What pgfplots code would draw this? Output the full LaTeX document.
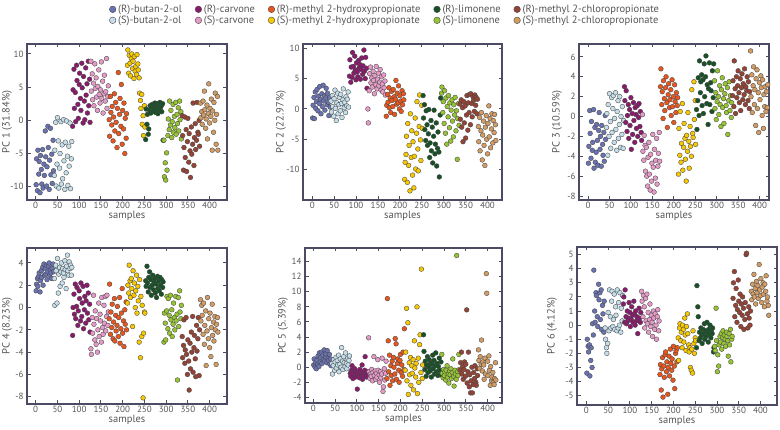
\documentclass[border=0pt]{standalone}
\usepackage{fontspec}
\setmainfont{PT Sans}
\usepackage{pgfplots}
\usepackage{pgfplotstable}
\pgfplotsset{compat=1.18}
\definecolor{cRbut}{RGB}{106,115,178}
\definecolor{cSbut}{RGB}{196,222,234}
\definecolor{cRcar}{RGB}{139,26,110}
\definecolor{cScar}{RGB}{230,154,200}
\definecolor{cRmhp}{RGB}{232,86,30}
\definecolor{cSmhp}{RGB}{245,200,0}
\definecolor{cRlim}{RGB}{22,82,38}
\definecolor{cSlim}{RGB}{150,196,50}
\definecolor{cRmcp}{RGB}{150,66,52}
\definecolor{cSmcp}{RGB}{210,156,100}
\definecolor{axcol}{RGB}{75,75,100}
\definecolor{lblcol}{RGB}{85,85,85}
\definecolor{mkedge}{RGB}{70,70,70}

\pgfplotstableread{
x p1 p2 p3 p4 p5 p6
1 -9.7 -1.5 -4.7 1.5 0.3 -3.4
2 -5.8 0.6 -3.0 2.1 1.1 -1.0
4 -10.6 1.9 0.6 2.6 0.0 -1.5
5 -4.5 -1.6 -1.7 1.9 0.6 -1.9
7 -8.1 2.8 -4.2 2.8 -0.2 -1.4
8 -6.2 0.1 -0.5 3.1 0.9 -3.6
10 -10.9 1.2 -3.4 1.4 0.4 -2.5
11 -5.3 3.2 -2.6 2.4 1.5 -1.6
13 -7.4 -0.3 0.7 3.3 0.1 -3.0
14 -9.6 2.1 -5.2 2.7 1.9 0.1
16 -4.4 0.9 -1.1 3.6 0.7 -0.7
17 -10.2 3.7 -4.6 2.0 1.3 3.9
19 -6.6 1.6 -3.6 3.9 2.0 1.0
20 -8.3 -0.8 -0.8 2.9 0.5 0.2
22 -1.6 2.5 -2.4 3.5 1.6 2.3
23 -5.5 0.4 -4.9 3.0 1.0 2.1
25 -9.9 3.9 -1.4 3.8 2.3 0.6
26 -7.0 1.3 0.4 2.5 0.8 -0.1
28 -0.9 2.2 -3.3 3.2 1.4 2.9
29 -4.1 -0.2 -2.0 3.7 1.8 1.8
31 -10.4 1.8 -5.0 4.0 0.6 2.3
32 -6.0 3.4 -0.9 2.9 2.2 0.4
34 -1.2 0.7 -2.8 3.4 1.2 2.5
35 -8.2 2.6 -3.9 3.1 0.9 -0.3
37 -5.1 1.1 -1.6 2.6 1.7 1.4
38 -9.5 -1.1 -4.5 3.5 0.4 0.8
40 -3.0 1.9 0.1 3.9 1.1 -0.5
41 -7.6 0.3 -2.3 3.2 0.2 1.7
}\Rbut
\pgfplotstableread{
x p1 p2 p3 p4 p5 p6
43 -8.3 1.3 -1.1 2.6 0.5 -0.2
44 -4.5 -0.5 0.3 0.2 -0.9 -1.0
46 -0.3 2.2 -3.9 3.8 0.2 -1.6
47 -9.9 0.4 1.2 3.3 1.0 -2.0
49 -6.6 -1.2 -2.0 0.4 -0.4 -1.3
50 0.4 1.7 2.3 4.4 0.7 0.9
52 -3.1 3.1 -0.5 1.3 1.3 -0.4
53 -10.2 0.1 -3.2 3.0 -0.1 2.5
55 -7.2 -1.9 1.9 3.6 0.9 0.6
56 -5.0 1.0 -1.6 1.9 0.3 -0.2
58 -0.2 2.6 0.8 3.2 1.6 1.7
59 -9.6 -0.8 2.1 4.0 -0.6 2.4
61 -3.7 0.7 -2.6 2.2 0.4 -0.1
62 -8.8 1.9 -0.2 3.5 1.1 0.4
64 0.1 -0.3 2.4 3.1 0.0 2.2
65 -6.1 2.4 -1.3 2.7 2.6 -0.3
67 -10.4 0.9 -3.4 4.2 0.8 1.3
68 -3.3 -1.4 0.5 3.4 -0.3 0.7
70 -7.9 1.5 1.6 1.7 1.4 -0.4
71 -0.1 3.3 -2.2 3.7 0.6 2.5
73 -5.4 0.2 -0.8 4.7 0.1 -0.2
74 -9.8 1.1 2.0 3.3 1.9 1.6
76 -3.9 -0.6 -3.1 2.9 0.5 0.0
77 -6.9 2.0 0.0 4.1 -0.2 2.3
79 -0.4 0.5 -1.8 3.5 1.2 -0.5
80 -10.3 1.6 1.0 3.8 0.3 1.2
82 -5.8 2.8 -3.2 2.9 0.9 0.3
83 -3.2 0.3 -0.4 3.6 1.5 2.1
}\Sbut
\pgfplotstableread{
x p1 p2 p3 p4 p5 p6
85 -0.9 5.4 3.0 -2.5 -0.8 1.5
86 4.6 8.1 1.6 0.0 -1.2 2.0
88 7.7 4.4 -0.6 1.2 -0.4 0.2
89 1.8 6.9 2.6 -0.6 0.2 2.5
91 4.2 5.2 -1.5 2.1 -1.5 0.6
92 -0.2 9.3 0.1 -1.0 -0.7 0.1
94 8.3 7.0 1.2 0.1 -1.0 1.0
95 6.0 5.9 -2.2 1.8 -0.2 0.3
97 2.4 8.7 0.7 -1.6 -1.3 0.5
98 0.3 6.4 -0.9 -0.3 -0.6 1.6
100 5.4 4.8 1.9 1.5 -0.9 0.9
101 7.1 7.6 -3.3 0.8 -2.9 -0.1
103 3.3 6.1 0.3 -1.2 -1.1 0.4
104 1.5 5.3 -1.8 2.2 -0.5 1.3
106 8.6 8.0 1.4 -0.8 -1.4 0.7
107 4.9 6.8 -0.4 0.4 -0.3 0.2
109 -0.4 7.3 -2.6 1.9 -1.0 1.7
110 6.6 4.9 0.9 -1.9 -0.8 0.8
112 2.9 6.5 0.2 -0.2 0.3 0.0
113 0.1 8.4 -1.2 1.0 -1.6 1.0
115 7.9 5.7 1.1 -1.4 -0.7 0.3
116 3.8 7.1 -2.0 0.6 -1.2 0.6
118 5.5 9.7 -0.1 2.0 -0.4 -0.6
119 1.1 6.2 1.3 -0.5 1.4 0.4
121 8.9 5.0 -1.0 1.3 -0.9 1.2
122 2.2 8.5 0.5 -1.1 -1.3 0.5
124 6.2 6.7 -1.6 0.3 -0.6 0.2
125 -0.3 3.4 -2.4 -2.2 -1.1 0.9
}\Rcar
\pgfplotstableread{
x p1 p2 p3 p4 p5 p6
127 8.9 0.0 0.2 -3.7 3.9 2.4
128 4.4 -2.3 -3.5 -4.2 -0.6 1.7
130 7.0 3.0 -4.4 -0.9 -1.5 0.6
131 3.1 5.8 -1.9 -2.3 -0.9 2.1
133 5.6 6.9 -2.9 1.1 -1.2 1.3
134 2.2 4.3 -5.5 -1.5 -0.3 -0.2
136 8.5 5.1 -3.1 -2.9 -1.8 1.9
137 4.8 3.6 -6.0 -0.3 -0.7 0.3
139 6.4 6.2 -7.0 -3.3 1.4 2.2
140 3.5 4.7 -4.1 -1.0 -1.1 0.1
142 1.5 2.5 -2.6 -4.0 -0.5 0.9
143 5.1 5.5 -5.8 -2.0 -1.6 -0.5
145 7.6 4.0 -7.4 0.4 -0.8 0.4
146 3.9 7.0 -3.8 -2.6 -1.3 1.5
148 2.6 3.3 -6.5 -0.6 1.0 -0.1
149 4.6 4.9 -4.7 -1.2 -0.4 0.7
151 8.8 5.9 -1.8 -3.1 -1.0 0.2
152 3.3 3.8 -5.1 0.9 -2.0 -0.8
154 5.9 4.4 -7.6 -1.8 -0.6 1.0
155 1.1 6.5 -3.3 -2.4 -1.4 0.5
157 4.0 3.1 -6.2 0.2 -0.9 -0.3
158 6.8 5.3 -4.4 -1.4 1.2 0.8
160 2.9 4.1 -2.2 1.0 -3.2 0.0
161 4.3 2.8 -6.8 -2.1 -2.6 -1.0
163 9.3 5.6 -5.0 -0.8 -0.2 0.6
164 1.8 3.5 -3.7 1.1 -1.7 1.1
166 3.6 4.6 -1.6 -1.6 -0.8 -0.4
167 5.2 2.3 -4.5 -0.4 0.8 0.3
}\Scar
\pgfplotstableread{
x p1 p2 p3 p4 p5 p6
169 0.1 -1.2 3.0 -1.0 -1.5 -3.5
170 -2.4 0.6 4.8 2.1 9.1 -2.8
172 3.6 2.4 1.2 -2.4 3.5 -4.6
173 1.2 1.1 2.5 -0.4 -0.6 -3.1
175 -0.7 3.5 -0.2 -1.8 1.6 -2.3
176 2.1 0.2 3.6 0.3 -2.4 -5.1
178 -3.1 1.8 1.8 -2.8 0.2 -2.9
179 0.5 -0.6 0.6 -1.3 -1.1 -3.7
181 4.0 2.9 2.9 0.8 0.8 -2.1
182 -1.6 1.4 4.0 -3.0 -1.8 -1.9
184 2.7 0.4 1.4 -0.7 1.3 -3.3
185 -0.3 3.2 -1.1 -2.1 0.0 -2.6
187 -4.1 2.0 2.2 -1.6 -0.9 -4.9
188 1.8 -0.9 3.3 0.1 3.8 -3.0
190 7.2 1.6 0.9 -2.6 3.1 -2.2
191 -2.0 4.7 1.7 -0.9 -1.6 -3.6
193 0.9 0.8 2.7 0.9 0.5 -1.7
194 3.3 2.6 0.1 -3.2 1.1 -2.7
196 -0.9 1.0 3.7 -1.9 -0.4 -3.2
197 5.4 3.8 1.0 -0.5 -2.0 -2.4
199 -3.6 0.0 2.0 1.7 0.9 -3.9
200 1.5 2.2 -0.6 -2.3 1.7 -1.5
202 -1.3 1.3 3.2 -1.2 -0.7 -2.9
203 2.6 -0.4 1.5 -3.5 0.3 -4.5
205 -5.0 3.0 0.4 -0.2 -1.2 -2.0
206 0.3 0.7 2.4 -1.5 2.0 -1.8
208 -2.7 2.5 1.1 0.5 -0.3 -2.6
209 1.0 1.5 1.9 -2.0 5.1 -1.6
}\Rmhp
\pgfplotstableread{
x p1 p2 p3 p4 p5 p6
211 8.3 -11.6 -5.8 0.4 -0.4 -0.9
212 10.6 -8.8 -1.2 2.0 2.0 -2.5
214 7.1 -7.5 -3.9 1.3 7.8 -0.2
215 9.8 -4.5 0.5 3.8 -1.8 0.1
217 8.6 -12.1 -4.6 2.4 5.9 -1.1
218 6.7 -2.4 -2.7 0.9 -3.6 -0.5
220 9.3 -9.3 1.3 2.6 0.6 -1.6
221 10.0 -6.0 -5.4 1.7 -1.0 0.0
223 7.8 -13.5 -3.1 -1.7 1.3 -0.3
224 8.9 -0.8 -0.7 3.3 -2.4 -1.2
226 6.3 -8.0 -2.2 1.1 0.2 0.5
227 9.6 -3.6 -4.3 2.2 -0.8 -0.7
229 7.4 -10.9 -6.5 0.0 1.0 -1.8
230 8.1 -5.4 -1.9 1.5 -3.0 -0.1
232 6.9 -13.0 -3.5 2.9 3.5 0.8
233 9.9 -7.8 0.4 -0.5 -0.1 -0.6
235 8.5 -1.5 -2.5 1.9 -1.3 -1.4
236 7.6 -9.9 -5.2 0.6 0.5 -1.9
238 6.4 -4.0 -1.0 -3.1 8.0 -1.6
239 4.1 1.2 -3.0 2.5 -3.5 -3.0
241 3.0 -6.6 -4.0 -4.5 1.2 -3.2
242 1.8 -10.2 2.7 1.0 -2.0 -1.7
244 3.9 -2.9 -1.7 -2.6 3.0 -3.4
245 -0.6 2.3 -2.1 0.2 4.3 -0.4
247 0.7 -5.1 3.5 -8.1 -0.7 -1.3
248 -2.3 -8.5 -0.3 -2.3 13.0 -2.0
250 2.2 0.6 1.6 -0.4 -1.5 -0.9
251 -1.0 -3.2 -2.8 -0.5 0.3 -1.1
}\Smhp
\pgfplotstableread{
x p1 p2 p3 p4 p5 p6
253 -2.9 2.2 0.7 2.4 4.3 -1.6
254 1.7 -1.5 -1.3 1.9 2.1 2.8
256 -0.6 0.7 1.6 3.7 -0.3 1.3
257 0.9 -3.4 3.9 2.2 0.8 0.6
259 -2.1 -5.2 0.1 1.4 -1.2 -1.1
260 -1.3 -0.3 5.6 2.7 0.3 -0.5
262 1.5 -2.6 2.4 3.2 1.4 -0.9
263 2.2 -6.0 3.5 1.8 -0.7 -0.2
265 1.1 -4.1 4.2 2.5 0.0 -0.7
266 1.9 -0.1 1.1 1.1 1.0 -1.3
268 2.4 -8.0 3.7 2.0 -0.5 -0.3
269 1.4 -5.6 0.3 2.9 0.6 -0.6
271 2.0 -1.9 5.3 1.6 -1.3 0.1
272 1.6 -6.9 2.0 2.3 0.4 -1.0
274 2.6 -3.0 4.0 2.6 1.6 -0.4
275 1.2 -8.9 6.1 1.3 -0.2 -0.8
277 2.1 -4.5 1.3 2.1 0.9 0.2
278 1.8 -0.2 3.2 0.9 -0.9 -0.5
280 2.5 -7.4 -0.8 2.8 0.2 -1.2
281 1.0 -5.8 2.8 1.7 1.9 -0.3
283 2.3 -2.3 5.4 2.4 -0.6 -0.7
284 1.5 -9.4 1.2 1.5 0.5 0.0
286 2.7 -6.5 3.4 2.7 -1.1 -0.9
287 1.9 -3.8 2.6 2.0 0.1 -0.4
289 2.2 -7.1 0.5 1.2 1.2 -0.6
290 1.3 -11.2 4.6 2.5 -0.4 -0.2
292 2.5 -1.0 1.9 1.8 -1.0 -1.9
293 -3.0 1.8 5.3 2.3 0.7 -1.6
}\Rlim
\pgfplotstableread{
x p1 p2 p3 p4 p5 p6
295 -3.0 2.6 3.6 -3.1 1.7 -1.5
296 -8.5 3.6 0.8 -0.5 -0.8 -1.8
298 -6.4 -0.6 2.4 -1.4 -1.4 1.2
299 -9.0 1.2 -0.3 -2.9 -0.3 -1.1
301 -4.9 -2.4 1.5 -0.3 -1.1 -3.3
302 -7.5 3.0 4.6 1.0 -0.6 -2.1
304 -2.3 -4.0 2.0 -1.9 -1.7 -2.9
305 0.2 1.8 0.2 0.8 -0.4 -1.4
307 -1.4 -5.8 3.1 -0.7 0.2 -0.8
308 2.9 0.4 1.2 -2.3 -1.3 -1.2
310 -0.7 -1.3 -1.0 1.1 -0.9 -0.6
311 1.5 2.2 2.7 -1.1 -2.1 -1.7
313 -2.6 -3.1 3.9 -0.2 -0.5 -0.9
314 -0.2 1.0 0.9 -2.6 -1.0 -0.4
316 2.4 -5.3 1.8 -1.5 -0.2 -1.3
317 -1.8 -0.2 -0.7 0.4 -1.5 -0.7
319 0.6 1.5 2.3 -0.9 -0.7 -1.0
320 -1.1 -2.0 3.3 -2.0 1.1 -1.5
322 2.7 -4.6 1.1 1.0 -1.2 -0.5
323 -2.1 0.7 0.4 -1.2 -2.5 -0.8
325 0.9 -1.0 2.9 -0.6 -0.4 -1.1
326 -0.5 1.9 -1.8 -6.5 -0.9 -2.2
328 1.9 -3.6 1.6 0.9 -1.6 -0.6
329 -1.6 -0.3 3.5 -1.7 14.8 -1.4
331 2.9 -8.3 0.6 1.5 -0.6 -0.3
332 0.1 -1.6 2.1 -0.4 -1.1 -2.6
334 1.3 0.9 -0.1 -1.0 1.7 -1.0
335 -2.8 -2.7 1.4 0.2 -0.3 -0.8
}\Slim
\pgfplotstableread{
x p1 p2 p3 p4 p5 p6
337 0.7 0.8 2.1 -2.6 -0.4 1.9
338 -2.3 -1.7 3.6 -4.5 0.6 3.0
340 -7.5 1.5 1.0 -3.4 2.0 3.8
341 -4.1 -3.0 5.6 -1.1 -0.9 0.6
343 0.5 0.2 2.8 -5.0 0.1 1.4
344 -5.6 -5.4 0.3 -3.8 -1.6 2.6
346 -1.4 1.2 4.0 -0.9 -0.3 0.2
347 -7.7 -2.3 1.9 -4.2 0.7 1.1
349 -3.2 0.5 3.1 -6.0 -1.2 3.2
350 0.3 -4.8 4.6 -2.9 0.4 1.7
352 -6.3 -1.0 2.4 -4.8 7.6 0.9
353 -2.0 2.2 1.4 -7.4 -2.1 2.2
355 -4.6 -3.5 3.8 -3.2 -0.6 -0.1
356 -8.6 1.0 0.6 -5.5 2.0 1.5
358 -1.0 -0.6 2.9 -2.2 -2.6 0.7
359 -5.1 2.4 4.3 -4.0 -1.0 2.0
361 -3.6 -2.6 1.7 -0.8 -3.4 1.2
362 2.6 2.5 3.3 -5.8 -1.8 -0.3
364 -6.8 0.9 2.2 -3.6 0.0 0.4
365 -2.6 -1.3 4.8 -2.5 -3.4 1.6
367 -0.5 2.0 1.2 -4.6 -2.3 5.0
368 -4.4 1.4 3.0 -6.2 -0.7 5.1
370 -3.0 -0.4 2.6 -1.6 -1.5 0.8
371 2.7 2.3 4.0 -3.9 0.2 -0.2
373 -1.8 0.6 1.6 -2.8 -2.0 1.3
374 -2.1 1.9 3.5 -0.9 -2.4 0.5
376 0.0 -0.8 0.8 -6.1 -0.2 0.0
377 -3.9 1.6 2.5 -2.0 -1.1 1.0
}\Rmcp
\pgfplotstableread{
x p1 p2 p3 p4 p5 p6
379 2.6 -2.9 6.6 0.7 2.3 2.4
380 0.4 -5.4 2.0 -1.2 0.9 1.8
382 1.3 -1.4 4.2 0.2 -0.2 2.9
383 -0.6 -6.9 0.4 -0.7 1.4 2.2
385 2.9 -3.6 3.1 -2.4 0.4 3.6
386 0.8 -0.6 5.0 0.4 3.6 2.0
388 4.4 -8.4 1.2 -3.3 -0.5 2.6
389 1.6 -4.3 2.7 -1.6 0.7 1.5
391 -1.2 -2.0 -0.9 -0.3 0.3 3.1
392 0.2 -6.0 3.8 -5.2 -1.6 2.3
394 2.3 -9.3 4.7 -2.1 1.2 2.8
395 -2.8 -3.0 0.8 0.9 -0.9 1.9
397 1.0 -1.1 2.4 -2.8 12.4 4.3
398 5.5 -5.0 -1.6 -1.0 9.8 2.5
400 -0.4 -7.4 3.4 -3.6 0.8 2.1
401 1.8 -2.4 1.7 -0.5 -1.1 3.3
403 0.6 0.5 4.1 -4.4 1.5 1.6
404 3.2 -4.6 2.9 -1.8 -0.4 2.7
406 -4.5 -1.6 0.1 0.3 -2.4 3.0
407 1.4 -6.4 3.7 -2.5 0.1 2.2
409 -1.8 -3.3 -1.2 -1.3 -1.8 1.3
410 2.7 -0.8 2.2 -3.0 -1.3 2.9
412 0.0 -5.6 1.0 -0.8 -0.7 2.4
413 4.1 -1.9 3.0 -2.0 -2.0 3.5
415 -3.6 -3.9 0.5 -5.1 -2.3 1.7
416 0.9 -0.9 2.5 -1.5 -1.5 2.0
418 3.6 -2.6 0.9 -0.9 0.6 1.4
419 -4.5 -5.2 3.2 -2.2 -1.7 0.7
}\Smcp

\pgfplotsset{
  pcaxis/.style={
    scale only axis, anchor=south west,
    xmin=-20, xmax=440, xtick={0,50,...,400},
    tick align=inside, xtick pos=both, ytick pos=both,
    axis line style={draw=axcol, line width=1.5pt},
    every outer x axis line/.append style={draw=axcol, line width=1.5pt},
    every outer y axis line/.append style={draw=axcol, line width=1.5pt},
    tick style={draw=axcol, line width=0.9pt},
    major tick length=3.5pt,
    ticklabel style={font=\fontsize{9}{10}\selectfont, text=lblcol},
    xticklabel style={yshift=1pt},
    label style={font=\fontsize{10.5}{12}\selectfont, text=lblcol},
    xlabel={samples},
    xlabel style={yshift=5pt},
    ylabel style={anchor=center},
    /pgf/number format/assume math mode=true,
    every axis plot/.append style={only marks, mark=*, mark size=2.4pt, line width=0.35pt},
  },
}
\newcommand{\zeroline}{\addplot[no markers, draw=black!70, line width=0.9pt, dash pattern=on 0.9pt off 1.6pt, forget plot] coordinates {(-30,0) (450,0)};}
\newcommand{\allclasses}[1]{%
  \addplot[draw=mkedge, fill=cRbut, forget plot] table[x=x,y=#1]{\Rbut};
  \addplot[draw=mkedge, fill=cSbut, forget plot] table[x=x,y=#1]{\Sbut};
  \addplot[draw=mkedge, fill=cRcar, forget plot] table[x=x,y=#1]{\Rcar};
  \addplot[draw=mkedge, fill=cScar, forget plot] table[x=x,y=#1]{\Scar};
  \addplot[draw=mkedge, fill=cRmhp, forget plot] table[x=x,y=#1]{\Rmhp};
  \addplot[draw=mkedge, fill=cSmhp, forget plot] table[x=x,y=#1]{\Smhp};
  \addplot[draw=mkedge, fill=cRlim, forget plot] table[x=x,y=#1]{\Rlim};
  \addplot[draw=mkedge, fill=cSlim, forget plot] table[x=x,y=#1]{\Slim};
  \addplot[draw=mkedge, fill=cRmcp, forget plot] table[x=x,y=#1]{\Rmcp};
  \addplot[draw=mkedge, fill=cSmcp, forget plot] table[x=x,y=#1]{\Smcp};
}

\begin{document}
\begin{tikzpicture}
\path[use as bounding box] (0,0) rectangle (780pt,430pt);

% PC 1
\begin{axis}[pcaxis, at={(27pt,230pt)}, width=200pt, height=156pt,
  ymin=-12, ymax=11.5, ytick={-10,-5,0,5,10}, ylabel={PC 1 (31.84\%)},
  ylabel style={at={(axis description cs:-0.1,0.5)}},
  legend columns=5,
  legend style={at={(0.41,1.265)}, anchor=north west, draw=none, fill=none,
    font=\fontsize{10.5}{11.5}\selectfont, text=lblcol,
    /tikz/every even column/.append style={column sep=11pt},
    row sep=-2pt, inner sep=0pt},
  legend cell align=left,
  legend image code/.code={\draw[#1] (0pt,0pt) circle (3.3pt);},
]
\addlegendimage{draw=mkedge, fill=cRbut, line width=0.4pt}\addlegendentry{(R)-butan-2-ol}
\addlegendimage{draw=mkedge, fill=cRcar, line width=0.4pt}\addlegendentry{(R)-carvone}
\addlegendimage{draw=mkedge, fill=cRmhp, line width=0.4pt}\addlegendentry{(R)-methyl 2-hydroxypropionate}
\addlegendimage{draw=mkedge, fill=cRlim, line width=0.4pt}\addlegendentry{(R)-limonene}
\addlegendimage{draw=mkedge, fill=cRmcp, line width=0.4pt}\addlegendentry{(R)-methyl 2-chloropropionate}
\addlegendimage{draw=mkedge, fill=cSbut, line width=0.4pt}\addlegendentry{(S)-butan-2-ol}
\addlegendimage{draw=mkedge, fill=cScar, line width=0.4pt}\addlegendentry{(S)-carvone}
\addlegendimage{draw=mkedge, fill=cSmhp, line width=0.4pt}\addlegendentry{(S)-methyl 2-hydroxypropionate}
\addlegendimage{draw=mkedge, fill=cSlim, line width=0.4pt}\addlegendentry{(S)-limonene}
\addlegendimage{draw=mkedge, fill=cSmcp, line width=0.4pt}\addlegendentry{(S)-methyl 2-chloropropionate}
\zeroline
\allclasses{p1}
\end{axis}

% PC 2
\begin{axis}[pcaxis, at={(303pt,230pt)}, width=199pt, height=156pt,
  xmin=-21, xmax=433,
  ymin=-15, ymax=10.7, ytick={-10,-5,0,5,10}, ylabel={PC 2 (22.97\%)},
  ylabel style={at={(axis description cs:-0.11,0.5)}}]
\zeroline
\allclasses{p2}
\end{axis}

% PC 3
\begin{axis}[pcaxis, at={(579pt,230pt)}, width=190pt, height=156pt,
  xmin=-21, xmax=422,
  ymin=-8.4, ymax=7.3, ytick={-8,-6,...,6}, ylabel={PC 3 (10.59\%)},
  ylabel style={at={(axis description cs:-0.116,0.5)}}]
\zeroline
\allclasses{p3}
\end{axis}

% PC 4
\begin{axis}[pcaxis, at={(27pt,26pt)}, width=200pt, height=156pt,
  ymin=-8.65, ymax=5.34, ytick={-8,-6,...,4}, ylabel={PC 4 (8.23\%)},
  ylabel style={at={(axis description cs:-0.1,0.5)}}]
\zeroline
\allclasses{p4}
\end{axis}

% PC 5
\begin{axis}[pcaxis, at={(305pt,27pt)}, width=197pt, height=155pt,
  xmin=-19, xmax=433,
  ymin=-4.74, ymax=15.8, ytick={-4,-2,...,14}, ylabel={PC 5 (5.39\%)},
  ylabel style={at={(axis description cs:-0.112,0.5)}}]
\zeroline
\allclasses{p5}
\end{axis}

% PC 6
\begin{axis}[pcaxis, at={(577pt,25pt)}, width=200pt, height=158pt,
  xmin=-21.6, xmax=438,
  ymin=-5.66, ymax=5.54, ytick={-5,...,5}, ylabel={PC 6 (4.12\%)},
  ylabel style={at={(axis description cs:-0.125,0.5)}}]
\zeroline
\allclasses{p6}
\end{axis}
\end{tikzpicture}
\end{document}
